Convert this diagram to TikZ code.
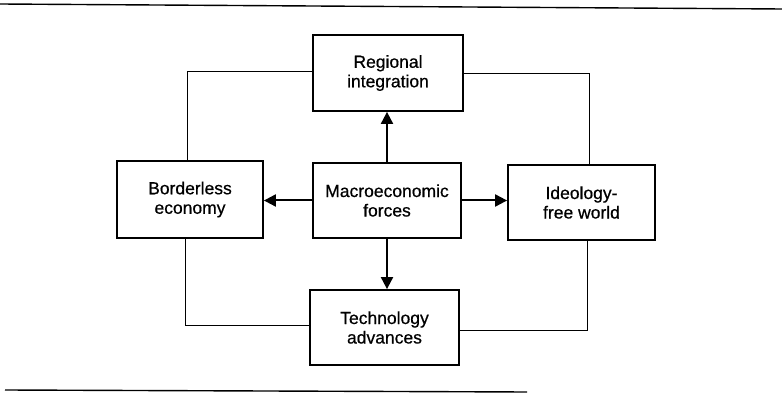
\documentclass[tikz,border=0pt]{standalone}
\usepackage{fontspec}
\setmainfont[FakeBold=0.6]{Liberation Sans}
\usetikzlibrary{arrows.meta}
\begin{document}
\begin{tikzpicture}[x=1pt,y=-1pt,
 box/.style={draw, line width=1.8pt, align=center, inner sep=0pt, font=\fontsize{17.5}{19.5}\selectfont},
 link/.style={line width=0.9pt},
 push/.style={line width=2pt, -{Triangle[length=12pt,width=12pt]}},
 rule/.style={line width=1.4pt}]
\useasboundingbox (0,0) rectangle (782,395);
\node[box, minimum width=150pt, minimum height=76pt] (reg) at (388,73) {Regional\\integration};
\node[box, minimum width=146pt, minimum height=77pt] (bord) at (190,199.5) {Borderless\\economy};
\node[box, minimum width=148pt, minimum height=75pt] (mac) at (387,200.5) {Macroeconomic\\forces};
\node[box, minimum width=147pt, minimum height=75pt] (ideo) at (581.5,202.5) {Ideology-\\free world};
\node[box, minimum width=149pt, minimum height=75pt] (tech) at (384.5,327.5) {Technology\\advances};
\coordinate (tl) at (0,4);
\coordinate (tr) at (782,9);
\coordinate (bl) at (5,390);
\coordinate (br) at (527,392);
\draw[rule] (tl) -- (tr);
\draw[rule] (bl) -- (br);
\draw[link] ([yshift=2pt]reg.west) -| ([xshift=-3pt]bord.north);
\draw[link] (reg.east) -| ([xshift=7.5pt]ideo.north);
\draw[link] ([xshift=5.5pt]ideo.south) |- ([yshift=-2.5pt]tech.east);
\draw[link] ([xshift=-5pt]bord.south) |- ([yshift=2.5pt]tech.west);
\draw[push] (mac.north) -- (mac.north |- reg.south);
\draw[push] (mac.west) -- (mac.west -| bord.east);
\draw[push] (mac.east) -- (mac.east -| ideo.west);
\draw[push] (mac.south) -- (mac.south |- tech.north);
\end{tikzpicture}
\end{document}
